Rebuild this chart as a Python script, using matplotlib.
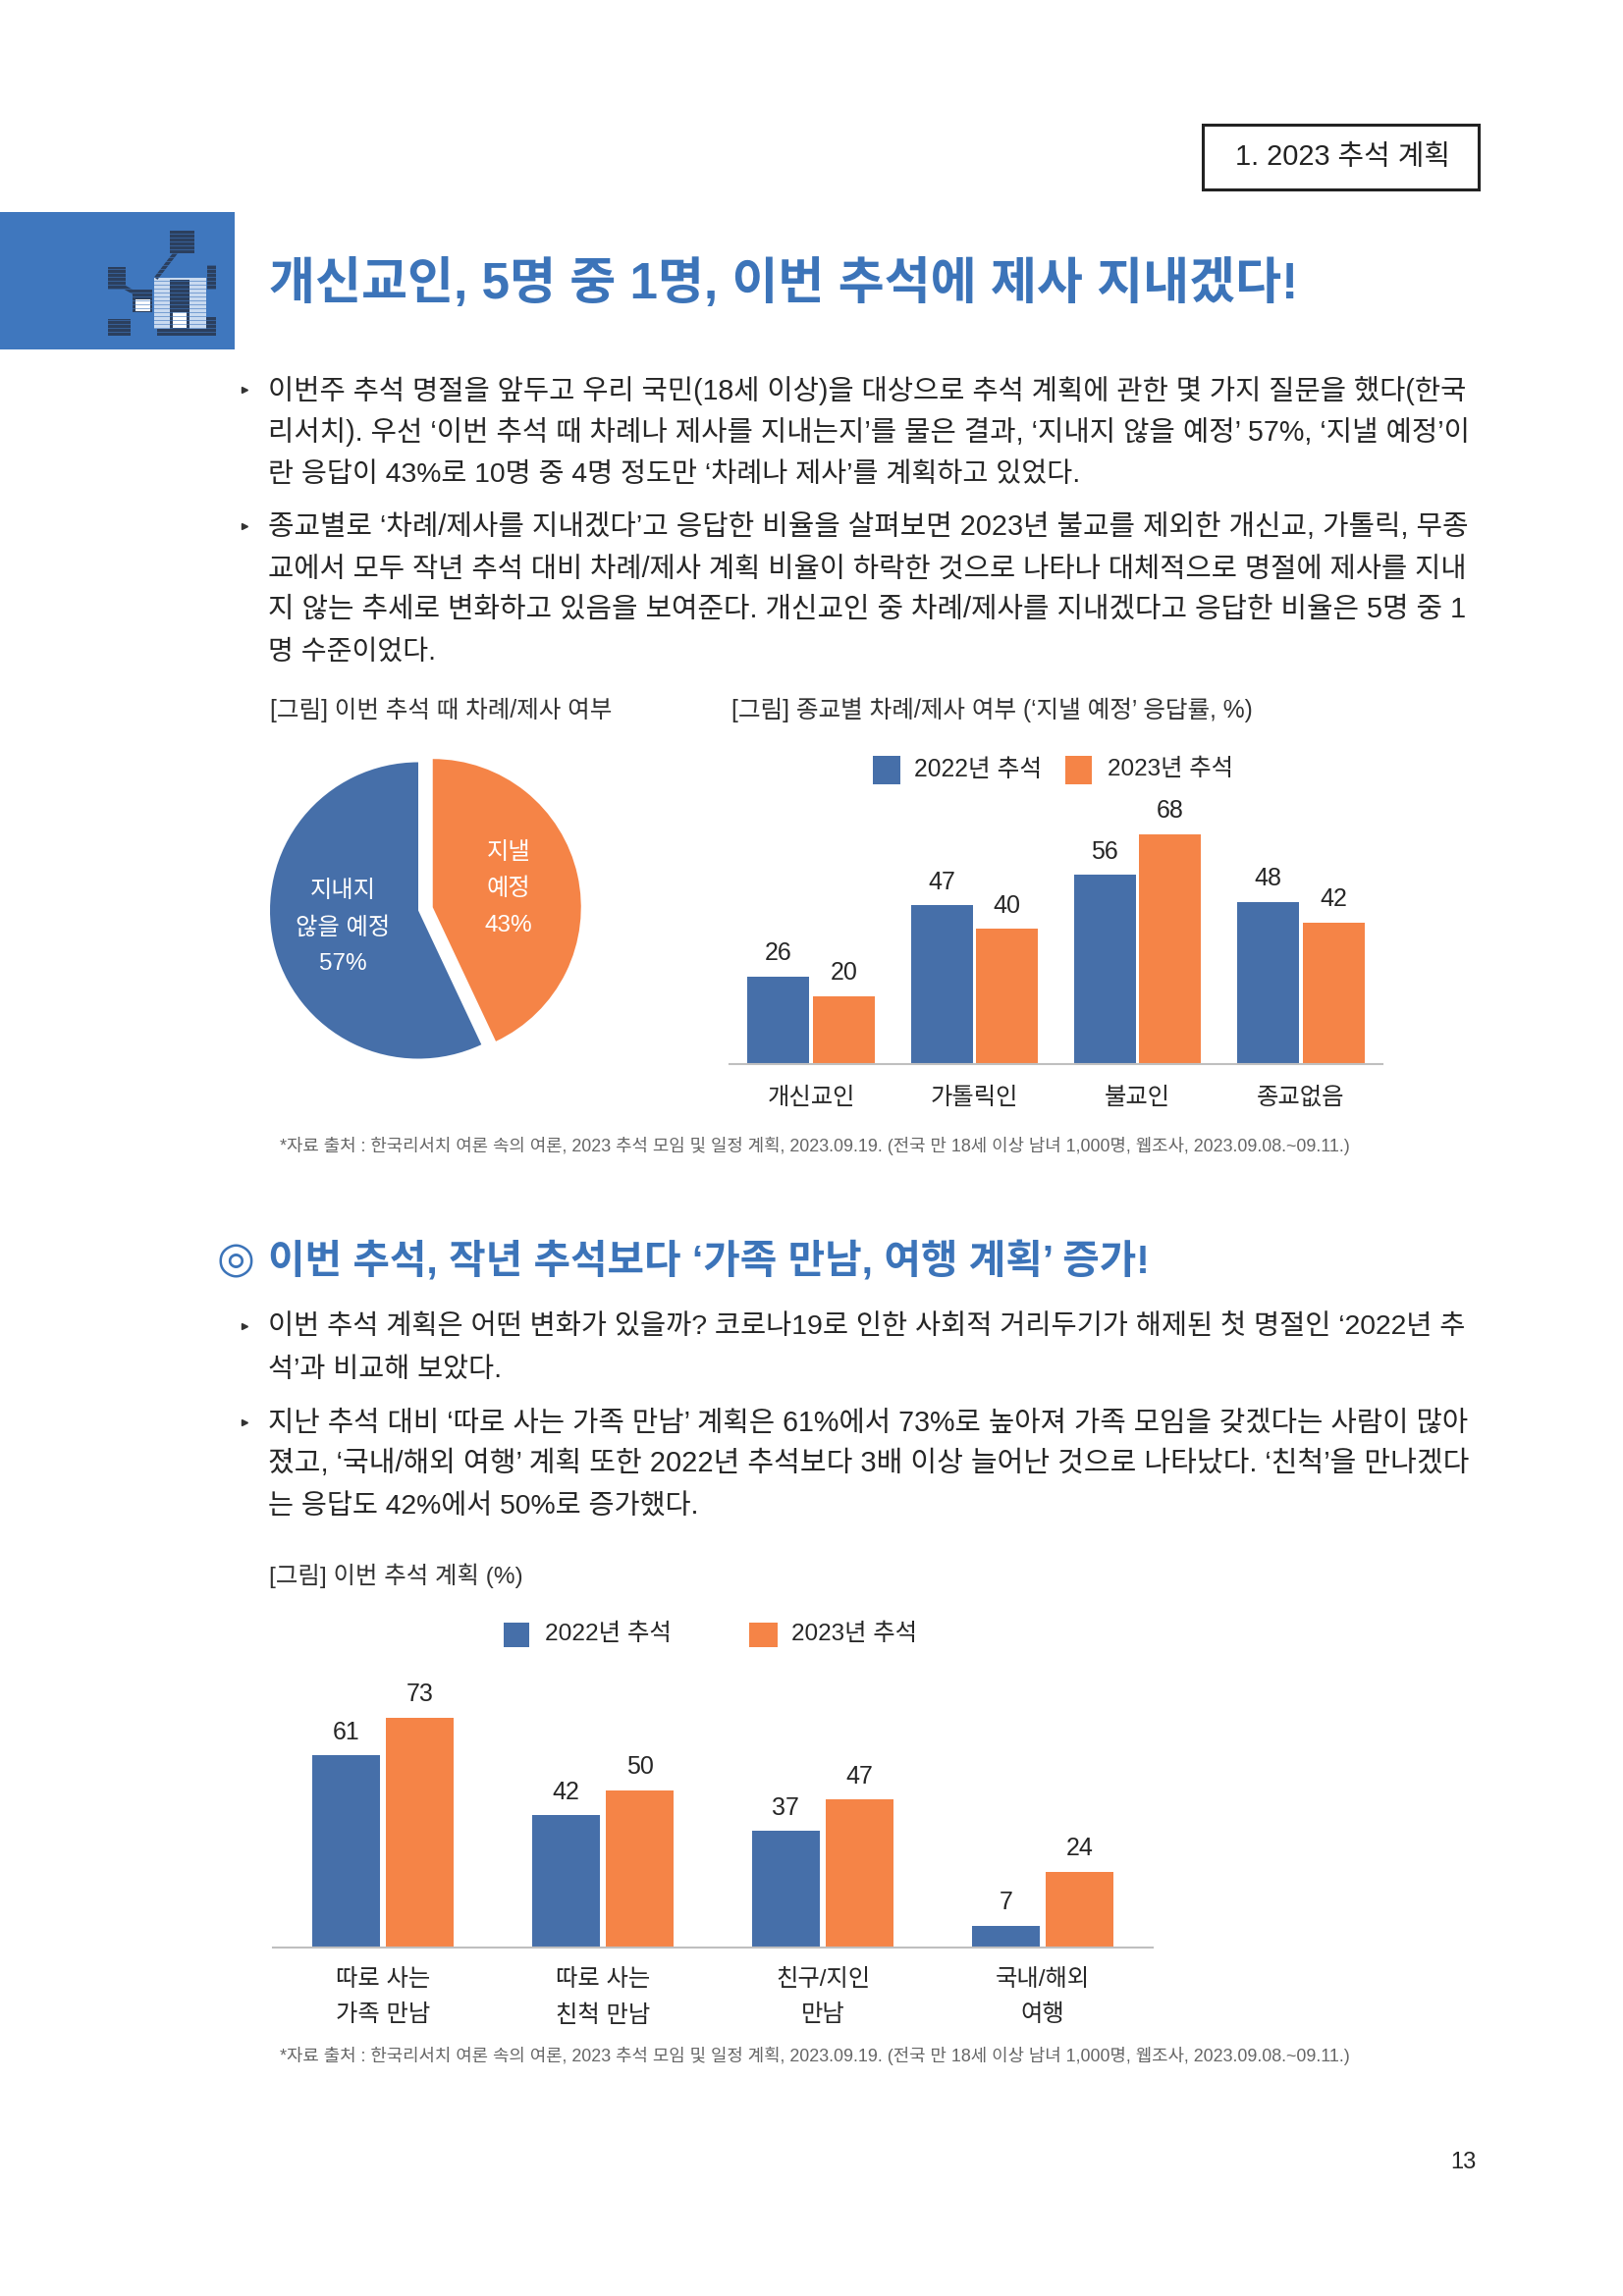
import matplotlib
matplotlib.use('Agg')
import matplotlib.pyplot as plt
from matplotlib.patches import Rectangle

plt.rcParams['font.family'] = ['Liberation Sans', 'Noto Sans CJK KR', 'DejaVu Sans']

W, H = 1653, 2339
BLUE = '#466FA9'
ORANGE = '#F58447'
TITLE_BLUE = '#3C74B9'
ICON_BLUE = '#3F77BE'
ICON_DARK = '#2B3F5E'
TEXT = '#262626'

# pie chart data
pie_labels = ['지낼\n예정\n43%', '지내지\n않을 예정\n57%']
pie_values = [43, 57]

# religion chart data
religion_cats = ['개신교인', '가톨릭인', '불교인', '종교없음']
religion_2022 = [26, 47, 56, 48]
religion_2023 = [20, 40, 68, 42]

# plan chart data
plan_cats = ['따로 사는\n가족 만남', '따로 사는\n친척 만남', '친구/지인\n만남', '국내/해외\n여행']
plan_2022 = [61, 42, 37, 7]
plan_2023 = [73, 50, 47, 24]

series_names = ['2022년 추석', '2023년 추석']

# body text, one entry per printed line: y, right edge
body_lines = [
    (398, 1497, '이번주 추석 명절을 앞두고 우리 국민(18세 이상)을 대상으로 추석 계획에 관한 몇 가지 질문을 했다(한국'),
    (440, 1497, '리서치). 우선 ‘이번 추석 때 차례나 제사를 지내는지’를 물은 결과, ‘지내지 않을 예정’ 57%, ‘지낼 예정’이'),
    (484, 1101, '란 응답이 43%로 10명 중 4명 정도만 ‘차례나 제사’를 계획하고 있었다.'),
    (537, 1497, '종교별로 ‘차례/제사를 지내겠다’고 응답한 비율을 살펴보면 2023년 불교를 제외한 개신교, 가톨릭, 무종'),
    (581, 1497, '교에서 모두 작년 추석 대비 차례/제사 계획 비율이 하락한 것으로 나타나 대체적으로 명절에 제사를 지내'),
    (621, 1497, '지 않는 추세로 변화하고 있음을 보여준다. 개신교인 중 차례/제사를 지내겠다고 응답한 비율은 5명 중 1'),
    (665, 444, '명 수준이었다.'),
    (1352, 1497, '이번 추석 계획은 어떤 변화가 있을까? 코로나19로 인한 사회적 거리두기가 해제된 첫 명절인 ‘2022년 추'),
    (1396, 511, '석’과 비교해 보았다.'),
    (1450, 1497, '지난 추석 대비 ‘따로 사는 가족 만남’ 계획은 61%에서 73%로 높아져 가족 모임을 갖겠다는 사람이 많아'),
    (1491, 1497, '졌고, ‘국내/해외 여행’ 계획 또한 2022년 추석보다 3배 이상 늘어난 것으로 나타났다. ‘친척’을 만나겠다'),
    (1535, 713, '는 응답도 42%에서 50%로 증가했다.'),
]
bullet_ys = [398, 537, 1352, 1450]

footnote = '*자료 출처 : 한국리서치 여론 속의 여론, 2023 추석 모임 및 일정 계획, 2023.09.19. (전국 만 18세 이상 남녀 1,000명, 웹조사, 2023.09.08.~09.11.)'


def px_axes(x0, y0, x1, y1):
    ax = fig.add_axes([x0 / W, 1 - y1 / H, (x1 - x0) / W, (y1 - y0) / H])
    ax.patch.set_alpha(0)
    return ax


def fit_text(x0, x1, y, s, size=17, **kw):
    # scale the font so the line runs from x0 to x1 like in the page
    t = bg.text(x0, y, s, fontsize=size, va='center', ha='left', **kw)
    w = t.get_window_extent(renderer).width
    t.set_fontsize(size * (x1 - x0) / w)
    return t


def plot_bars(ax, cats, v1, v2, width, offset, ymax, label_pad, tick_pad, size=18):
    xs = range(len(cats))
    b1 = ax.bar([x - offset for x in xs], v1, width, color=BLUE)
    b2 = ax.bar([x + offset for x in xs], v2, width, color=ORANGE)
    ax.bar_label(b1, padding=label_pad, fontsize=size, color=TEXT)
    ax.bar_label(b2, padding=label_pad, fontsize=size, color=TEXT)
    ax.set_xlim(-0.5, len(cats) - 0.5)
    ax.set_ylim(0, ymax)
    ax.set_yticks([])
    ax.set_xticks(list(xs))
    ax.set_xticklabels(cats, fontsize=17.5, color=TEXT, linespacing=1.85)
    ax.tick_params(axis='x', length=0, pad=tick_pad)
    for s in ['top', 'left', 'right']:
        ax.spines[s].set_visible(False)
    ax.spines['bottom'].set_color('#BFBFBF')
    ax.spines['bottom'].set_linewidth(1.5)


def legend_row(y, h, items):
    for (x0, x1, tx0, tx1), color, name in zip(items, [BLUE, ORANGE], series_names):
        bg.add_patch(Rectangle((x0, y - h / 2), x1 - x0, h, color=color, lw=0))
        fit_text(tx0, tx1, y, name, color=TEXT)


fig = plt.figure(figsize=(W / 100, H / 100), dpi=100, facecolor='white')
renderer = fig.canvas.get_renderer()

bg = fig.add_axes([0, 0, 1, 1])
bg.set_xlim(0, W)
bg.set_ylim(H, 0)
bg.axis('off')
bg.set_zorder(5)  # page text sits above the chart axes

# header box
bg.add_patch(Rectangle((1225, 127), 281, 66, fc='white', ec='#222222', lw=2.2))
fit_text(1258, 1477, 160, '1. 2023 추석 계획', color='#222222')

# blue block with the little icon
bg.add_patch(Rectangle((0, 216), 239, 140, color=ICON_BLUE, lw=0))
bg.plot([160, 180], [282, 256], color=ICON_DARK, lw=3)
bg.plot([122, 140], [290, 300], color=ICON_DARK, lw=3)
bg.add_patch(Rectangle((173, 235), 25, 23, color=ICON_DARK, lw=0))
bg.add_patch(Rectangle((110, 272), 18, 23, color=ICON_DARK, lw=0))
bg.add_patch(Rectangle((211, 270), 9, 25, color=ICON_DARK, lw=0))
bg.add_patch(Rectangle((135, 295), 20, 23, color=ICON_DARK, lw=0))
bg.add_patch(Rectangle((138, 305), 15, 12, color='white', lw=0))
bg.add_patch(Rectangle((157, 283), 53, 52, color='#C9DAF0', lw=0))
bg.add_patch(Rectangle((173, 285), 20, 50, color=ICON_DARK, lw=0))
bg.add_patch(Rectangle((176, 318), 14, 16, color='white', lw=0))
bg.add_patch(Rectangle((110, 325), 23, 17, color=ICON_DARK, lw=0))
bg.add_patch(Rectangle((160, 335), 58, 7, color=ICON_DARK, lw=0))
bg.add_patch(Rectangle((210, 323), 10, 19, color=ICON_DARK, lw=0))
# the icon is striped in the scan
for yy in range(234, 344, 4):
    bg.plot([108, 222], [yy, yy], color=ICON_BLUE, lw=0.6, alpha=0.7)

fit_text(274, 1322, 290, '개신교인, 5명 중 1명, 이번 추석에 제사 지내겠다!',
         size=36, color=TITLE_BLUE, fontweight='bold')
bg.text(240, 1284, '◎', fontsize=32, color=TITLE_BLUE, ha='center', va='center',
        family=['DejaVu Sans'])
fit_text(273, 1173, 1284, '이번 추석, 작년 추석보다 ‘가족 만남, 여행 계획’ 증가!',
         size=30, color=TITLE_BLUE, fontweight='bold')

for y, x1, line in body_lines:
    fit_text(273, x1, y, line, color=TEXT)
for y in bullet_ys:
    bg.plot([249], [y - 1], marker='>', ms=4.5, color='#333333', ls='none')

# captions
fit_text(275, 624, 723, '[그림] 이번 추석 때 차례/제사 여부', color='#333333')
fit_text(745, 1278, 723, '[그림] 종교별 차례/제사 여부 (‘지낼 예정’ 응답률, %)', color='#333333')
fit_text(274, 533, 1605, '[그림] 이번 추석 계획 (%)', color='#333333')
fit_text(285, 1376, 1167, footnote, size=12, color='#666666')
fit_text(285, 1376, 2094, footnote, size=12, color='#666666')
bg.text(1490, 2203, '13', fontsize=17, color=TEXT, ha='center', va='center')

# pie
R = 151
pie_ax = px_axes(426 - 1.2 * R, 927.5 - 1.2 * R, 426 + 1.2 * R, 927.5 + 1.2 * R)
pie_ax.pie(pie_values, explode=[0.1, 0], colors=[ORANGE, BLUE], startangle=90,
           counterclock=False, radius=1)
pie_ax.set_xlim(-1.2, 1.2)
pie_ax.set_ylim(-1.2, 1.2)
bg.text(518, 906, pie_labels[0], color='white', fontsize=17.5, ha='center', va='center', linespacing=1.85)
bg.text(349, 945, pie_labels[1], color='white', fontsize=17.5, ha='center', va='center', linespacing=1.85)

# religion bars
ax1 = px_axes(743, 1084 - 3.44 * 80, 1408, 1084)
plot_bars(ax1, religion_cats, religion_2022, religion_2023, 0.38, 0.2, 80, 8.5, 17)
legend_row(784, 29, [(889, 917, 931, 1061), (1085, 1112, 1128, 1256)])

# plan bars
ax2 = px_axes(278, 1984 - 3.205 * 85, 1174, 1984)
plot_bars(ax2, plan_cats, plan_2022, plan_2023, 0.305, 0.168, 85, 8.5, 15.5)
legend_row(1665, 25, [(513, 539, 555, 684), (763, 792, 806, 934)])

plt.savefig('out.png', dpi=100, facecolor='white')
